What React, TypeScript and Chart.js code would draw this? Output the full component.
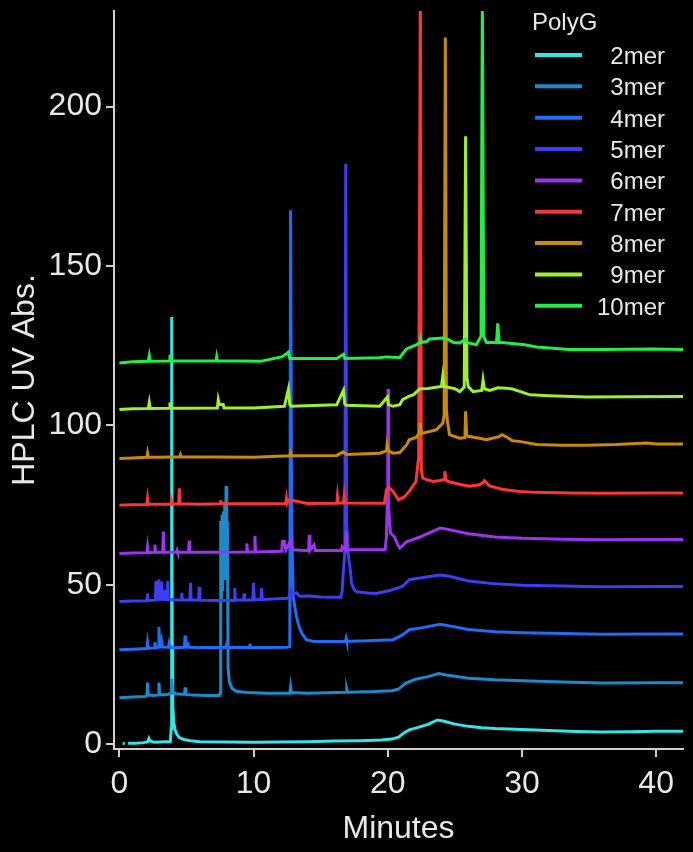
import React, { useEffect, useRef } from "react";
import { Chart, registerables } from "chart.js";

Chart.register(...registerables);

// ---------- DATA ----------
const seriesLabels = ["2mer", "3mer", "4mer", "5mer", "6mer", "7mer", "8mer", "9mer", "10mer"];
const seriesColors = ["#35e4e4", "#1b8acd", "#1f6df5", "#3d3df2", "#9c33ef", "#ff3434", "#c98b05", "#9df02e", "#22ee44"];
const legendTitle = "PolyG";
const xTicks = [0, 10, 20, 30, 40];
const yTicks = [0, 50, 100, 150, 200];
const xTitle = "Minutes";
const yTitle = "HPLC UV Abs.";

type Pt = [number, number | null];

const mer2: Pt[] = [
  [0.25, 0.2], [0.4, 0.2], [0.5, null], [0.65, 0.3], [1.2, 0.3], [1.8, 0.5], [2.1, 0.7], [2.2, 1.8], [2.3, 1.0],
  [2.6, 0.6], [3.0, 0.7], [3.5, 0.8], [3.8, 0.8], [3.86, 5], [3.9, 134], [3.94, 30], [3.98, 12], [4.05, 7],
  [4.15, 4.5], [4.3, 3], [4.5, 2], [4.8, 1.5], [5.3, 1.1], [6, 0.8], [8, 0.7], [10, 0.6], [12, 0.7], [14, 0.8],
  [16, 1.0], [18, 1.1], [19.5, 1.3], [20.3, 1.6], [20.8, 2.2], [21.2, 3.5], [21.6, 4.5], [22.2, 5.2], [23, 6.2],
  [23.7, 7.6], [24.2, 7.2], [25, 6.3], [26, 5.6], [27, 5.2], [28, 4.9], [30, 4.6], [32, 4.3], [34, 4.0],
  [36, 3.8], [38, 3.9], [40, 4.1], [42, 4.1],
];

const mer3: Pt[] = [
  [0, 14.6], [1, 14.8], [1.9, 15.0], [2.05, 15.2], [2.1, 19.3], [2.15, 15.5], [2.5, 15.3], [2.9, 15.4], [2.95, 19.3],
  [3.0, 15.6], [3.5, 15.5], [3.85, 16], [3.9, 20.5], [3.95, 16.5], [4.2, 15.8], [4.85, 15.6], [4.9, 17.8],
  [4.95, 15.6], [5.5, 15.4], [6.5, 15.3], [7.45, 15.3], [7.5, 16], [7.55, 70], [7.6, 45], [7.65, 72], [7.7, 48],
  [7.75, 73], [7.8, 52], [7.85, 76], [7.9, 58], [7.95, 81], [8.0, 55], [8.05, 70], [8.1, 24], [8.2, 19.5],
  [8.4, 17.5], [8.7, 16.6], [9.5, 16.2], [11, 16.0], [12.7, 16.0], [12.76, 18], [12.82, 16.2], [14, 16.0],
  [16.9, 16.3], [16.95, 17.2], [17, 16.3], [19, 16.5], [20.3, 16.8], [20.8, 17.3], [21.3, 19], [22, 20.3],
  [23, 21.2], [23.8, 22.2], [24.5, 21.6], [26, 20.7], [28, 20.2], [30, 19.9], [33, 19.5], [36, 19.2], [40, 19.3],
  [42, 19.3],
];

const mer4: Pt[] = [
  [0, 29.6], [1, 29.8], [2.05, 30], [2.1, 31.8], [2.15, 30.1], [2.6, 30.2], [2.65, 32], [2.7, 30.3], [2.9, 30.4],
  [2.95, 36.8], [3.0, 30.5], [3.1, 30.6], [3.15, 32], [3.2, 30.5], [3.65, 30.4], [3.7, 31.5], [3.75, 30.4],
  [4.2, 30.3], [4.85, 30.4], [4.9, 34.1], [4.95, 30.6], [5.05, 30.5], [5.1, 32], [5.15, 30.4], [6, 30.3],
  [7.9, 30.3], [8.0, 31.5], [8.1, 30.3], [9.68, 30.3], [9.73, 31.5], [9.78, 30.3], [11, 30.3], [12.5, 30.4],
  [12.7, 30.6], [12.76, 167.5], [12.84, 70], [12.95, 46.3], [13.2, 40], [13.4, 36.8], [13.6, 34.8],
  [13.95, 32.7], [14.5, 32.2], [15.4, 32.2], [16.85, 32.3], [16.9, 33.2], [16.95, 32.3], [18, 32.4],
  [19.5, 32.6], [20.4, 32.8], [21.1, 34.3], [21.6, 35.9], [22.5, 36.5], [23.9, 37.6], [24.5, 37.2], [26, 36],
  [28, 35.3], [30, 35.0], [33, 34.7], [36, 34.5], [40, 34.6], [42, 34.6],
];

const mer5: Pt[] = [
  [0, 44.8], [1, 44.9], [2.05, 45], [2.1, 47.2], [2.15, 45.1], [2.68, 45.2], [2.73, 51.3], [2.78, 45.4],
  [2.82, 45.4], [2.86, 50.5], [2.9, 45.5], [2.95, 51.7], [3.0, 45.6], [3.1, 45.5], [3.15, 51], [3.2, 45.5],
  [3.36, 45.4], [3.4, 48.5], [3.44, 45.4], [3.55, 45.4], [3.6, 51.3], [3.65, 45.4], [4.6, 45.2], [4.65, 47.5],
  [4.7, 45.2], [5.25, 45.2], [5.3, 50.6], [5.35, 45.3], [5.9, 45.2], [5.95, 49.3], [6.0, 45.2], [7, 45.1],
  [8.55, 45.1], [8.6, 49], [8.65, 45.2], [9.25, 45.2], [9.3, 47.3], [9.35, 45.2], [9.95, 45.3], [10.0, 50.6],
  [10.05, 45.3], [10.55, 45.3], [10.6, 49], [10.65, 45.4], [12.6, 45.8], [12.8, 48.5], [12.9, 46.8],
  [13.2, 47.5], [13.45, 46.4], [14.2, 46.5], [15, 46.2], [16.5, 46.1], [16.6, 48], [16.7, 54.7], [16.8, 60],
  [16.87, 182.1], [16.93, 70], [17.05, 59.4], [17.2, 55], [17.3, 50.5], [17.5, 48.5], [17.67, 47.8],
  [18.5, 47.4], [19.15, 47.3], [20.15, 48.2], [21.1, 49.5], [21.6, 51.6], [22.5, 52.2], [23.9, 53.1],
  [24.6, 52.7], [26, 51.2], [28, 50.3], [30, 49.9], [33, 49.6], [36, 49.4], [40, 49.5], [42, 49.5],
];

const mer6: Pt[] = [
  [0, 59.8], [1, 60], [2.05, 60.1], [2.1, 61.9], [2.15, 60.1], [2.6, 60.2], [2.65, 62.6], [2.7, 60.2],
  [3.23, 60.3], [3.28, 66.7], [3.33, 60.3], [4.25, 60.2], [4.3, 60.8], [4.35, 60.2], [5.15, 60.2], [5.2, 63.9],
  [5.25, 60.3], [6, 60.2], [8, 60.2], [9.45, 60.3], [9.5, 63], [9.55, 60.3], [10.05, 60.3], [10.1, 65.3],
  [10.15, 60.3], [12.1, 60.5], [12.15, 63.6], [12.3, 63.6], [12.4, 61], [12.8, 64], [12.9, 61], [14.1, 60.7],
  [14.15, 65.7], [14.2, 60.8], [14.5, 62.5], [14.6, 60.8], [16.55, 60.8], [16.6, 62], [16.85, 61], [16.9, 66.7],
  [16.95, 61], [19.8, 61], [19.9, 65], [20.0, 80], [20.02, 111.4], [20.06, 75], [20.2, 66.2], [20.5, 65],
  [20.7, 63], [20.9, 61.5], [21.4, 63.5], [22.4, 65], [23.9, 67.8], [24.5, 67.4], [26, 66], [28, 65],
  [30, 64.6], [33, 64.3], [36, 64.1], [40, 64.2], [42, 64.2],
];

const mer7: Pt[] = [
  [0, 75], [1, 75.1], [2.05, 75.2], [2.1, 77], [2.15, 75.3], [3.85, 75.3], [3.9, 76], [3.95, 75.3], [4.42, 75.4],
  [4.47, 80.3], [4.52, 75.4], [6, 75.3], [7.5, 75.4], [7.55, 76.5], [7.6, 75.4], [10, 75.4], [12.4, 75.5],
  [12.45, 77], [12.5, 75.5], [12.65, 76.6], [13.2, 76.2], [14, 75.5], [16.2, 75.6], [16.25, 77.7], [16.3, 75.7],
  [16.7, 75.7], [16.75, 77.7], [16.8, 75.7], [19.75, 75.6], [19.9, 79.8], [20.1, 80.5], [20.4, 79.3],
  [20.8, 76.7], [21.2, 77.5], [21.6, 79.3], [22.1, 82.4], [22.3, 90], [22.43, 240], [22.5, 86.1], [22.6, 83.5],
  [22.9, 83], [23.4, 82.4], [23.9, 82.7], [24.2, 83], [24.25, 85.6], [24.35, 82.8], [24.5, 82.4], [25.5, 81.4],
  [26.1, 80.9], [26.85, 81.4], [27.1, 82.1], [27.2, 82.7], [27.6, 81], [28.5, 80], [29.8, 79.3], [31, 79],
  [33.5, 78.8], [36, 78.7], [40, 78.8], [42, 78.8],
];

const mer8: Pt[] = [
  [0, 89.6], [1, 89.8], [2.05, 90], [2.1, 91.2], [2.15, 90], [3, 90], [4.5, 90.2], [4.55, 90.8], [4.6, 90.2],
  [7, 90.1], [10, 90], [12.7, 90.5], [12.75, 91.3], [12.8, 90.5], [16.2, 90.6], [16.7, 91.7], [16.9, 90.9],
  [19.4, 91.3], [19.9, 92], [19.95, 94], [20.05, 92], [20.4, 91.3], [20.9, 91.5], [21.4, 93.9], [21.6, 95.5],
  [22.1, 96.2], [22.35, 97.5], [22.42, 100.7], [22.5, 97.5], [23.2, 98.2], [23.6, 98.6], [24.1, 100.7],
  [24.2, 103], [24.29, 221.7], [24.37, 105], [24.45, 101.2], [24.6, 97.1], [25.35, 96], [25.75, 96.2],
  [25.8, 104.4], [25.88, 97], [25.98, 96.6], [26.85, 96], [27.35, 95.5], [28.3, 96.5], [28.5, 97.1],
  [28.8, 96.5], [29.3, 95.2], [29.8, 95], [31.1, 94], [33, 93.8], [34.8, 93.8], [37, 94], [39.3, 94.5],
  [40, 94.2], [42, 94.2],
];

const mer9: Pt[] = [
  [0, 105], [1, 105.2], [2.15, 105.3], [2.23, 107.2], [2.3, 105.3], [3.7, 105.4], [3.77, 107.2], [3.85, 105.4],
  [5, 105.4], [7.3, 105.5], [7.37, 108.1], [7.45, 106.6], [7.74, 106.6], [7.8, 105.5], [10, 105.5], [12.3, 106],
  [12.6, 111.4], [12.7, 106.5], [12.8, 106], [16.2, 106.5], [16.7, 111], [16.8, 106.7], [16.9, 106.3],
  [19.4, 106], [19.97, 108.9], [20.05, 106.5], [20.4, 106], [20.9, 106.5], [21.1, 108.1], [21.6, 109.2],
  [21.9, 109.6], [22.4, 111.5], [23, 111.6], [24.0, 112.2], [24.1, 115.5], [24.2, 112.2], [25.0, 111.5],
  [25.36, 110.6], [25.7, 112], [25.8, 190.7], [25.9, 115], [26.0, 112.2], [26.35, 110.6], [27, 111],
  [27.1, 114.3], [27.2, 111.5], [27.6, 111], [28.2, 111.8], [28.8, 111.7], [29.3, 111.4], [30.6, 109.6],
  [32, 109.3], [34.8, 108.9], [38, 109], [42, 109.1],
];

const mer10: Pt[] = [
  [0, 119.6], [1, 120], [2.15, 120.1], [2.23, 121.9], [2.3, 120.1], [3.7, 120.2], [3.77, 122.2], [3.85, 120.2],
  [7.2, 120.3], [7.25, 121.5], [7.3, 120.3], [10.5, 120.1], [12.1, 121.5], [12.46, 122.5], [12.6, 123],
  [12.7, 121], [16.2, 121], [16.7, 122.3], [16.8, 121], [19.4, 121.2], [19.85, 121.5], [20.9, 121.3],
  [21.4, 124], [22.1, 125.3], [22.4, 125.9], [22.45, 127], [22.5, 126], [22.9, 126.3], [23.1, 127.1],
  [24.1, 127.4], [24.5, 127], [24.9, 126], [25.35, 125.9], [25.8, 127], [25.9, 126], [26.6, 125.3],
  [26.95, 128], [27.05, 235], [27.15, 128], [27.35, 126], [28.1, 126], [28.2, 132], [28.3, 126], [28.5, 126],
  [30.2, 125.3], [31.1, 124.6], [33.5, 123.8], [36, 123.8], [39.7, 124], [42, 123.8],
];

const allSeries: Pt[][] = [mer2, mer3, mer4, mer5, mer6, mer7, mer8, mer9, mer10];

// ---------- STYLE ----------
const FONT = '"Liberation Sans", Arial, Helvetica, sans-serif';
const textColor = "#e8e8e8";
const axisColor = "#cfcfcf";

const legendPlugin = {
  id: "polyLegend",
  afterDraw(chart: any) {
    const ctx = chart.ctx as CanvasRenderingContext2D;
    ctx.save();
    ctx.font = `24px ${FONT}`;
    ctx.fillStyle = textColor;
    ctx.textBaseline = "alphabetic";
    ctx.textAlign = "left";
    ctx.fillText(legendTitle, 532, 30);
    chart.data.datasets.forEach((ds: any, i: number) => {
      const y = 55 + i * 31.35;
      ctx.strokeStyle = ds.borderColor;
      ctx.lineWidth = 4;
      ctx.beginPath();
      ctx.moveTo(535, y);
      ctx.lineTo(582, y);
      ctx.stroke();
      ctx.textAlign = "right";
      ctx.fillStyle = textColor;
      ctx.fillText(ds.label, 665, y + 9);
    });
    ctx.restore();
  },
};

const bgPlugin = {
  id: "bg",
  beforeDraw(chart: any) {
    const ctx = chart.ctx as CanvasRenderingContext2D;
    ctx.save();
    ctx.fillStyle = "#000";
    ctx.fillRect(0, 0, chart.width, chart.height);
    ctx.restore();
  },
};

export default function App() {
  const ref = useRef<HTMLCanvasElement>(null);

  useEffect(() => {
    if (!ref.current) return;
    const datasets = allSeries.map((s, i) => ({
      label: seriesLabels[i],
      data: s.map(([x, y]) => ({ x, y })),
      borderColor: seriesColors[i],
      backgroundColor: seriesColors[i],
      borderWidth: 3,
      pointRadius: 0,
      tension: 0,
      spanGaps: false,
      order: allSeries.length - 1 - i,
    }));

    const chart = new Chart(ref.current, {
      type: "line",
      data: { datasets },
      plugins: [bgPlugin, legendPlugin],
      options: {
        animation: false,
        responsive: false,
        maintainAspectRatio: false,
        layout: { padding: { top: 11, right: 10, left: 0, bottom: 0 } },
        plugins: { legend: { display: false }, tooltip: { enabled: false } },
        scales: {
          x: {
            type: "linear",
            min: -0.4,
            max: 42,
            afterBuildTicks: (scale: any) => {
              scale.ticks = xTicks.map((v) => ({ value: v }));
            },
            afterFit: (scale: any) => {
              scale.height = 103;
              scale.paddingLeft = 0;
              scale.paddingRight = 0;
            },
            ticks: {
              stepSize: 10,
              includeBounds: false,
              color: textColor,
              font: { family: FONT, size: 32 },
              padding: 8,
              maxRotation: 0,
            },
            grid: { drawOnChartArea: false, drawTicks: true, tickLength: 8, color: axisColor, lineWidth: 2 },
            border: { display: true, color: axisColor, width: 2 },
            title: {
              display: true,
              text: xTitle,
              color: textColor,
              font: { family: FONT, size: 32 },
              padding: { top: 0, bottom: 4 },
            },
          },
          y: {
            type: "linear",
            min: -1.5,
            max: 230,
            afterBuildTicks: (scale: any) => {
              scale.ticks = yTicks.map((v) => ({ value: v }));
            },
            afterFit: (scale: any) => {
              scale.width = 114;
              scale.paddingTop = 0;
              scale.paddingBottom = 0;
            },
            ticks: {
              stepSize: 50,
              includeBounds: false,
              color: textColor,
              font: { family: FONT, size: 32 },
              padding: 4,
            },
            grid: { drawOnChartArea: false, drawTicks: true, tickLength: 8, color: axisColor, lineWidth: 2 },
            border: { display: true, color: axisColor, width: 2 },
            title: {
              display: true,
              text: yTitle,
              color: textColor,
              font: { family: FONT, size: 32 },
              padding: { top: 6, bottom: 0 },
            },
          },
        },
      },
    });
    return () => chart.destroy();
  }, []);

  return (
    <div style={{ width: 693, height: 852, background: "#000" }}>
      <style>{`html,body{margin:0;padding:0;background:#000;}`}</style>
      <canvas ref={ref} width={693} height={852} style={{ display: "block", width: 693, height: 852 }} />
    </div>
  );
}
